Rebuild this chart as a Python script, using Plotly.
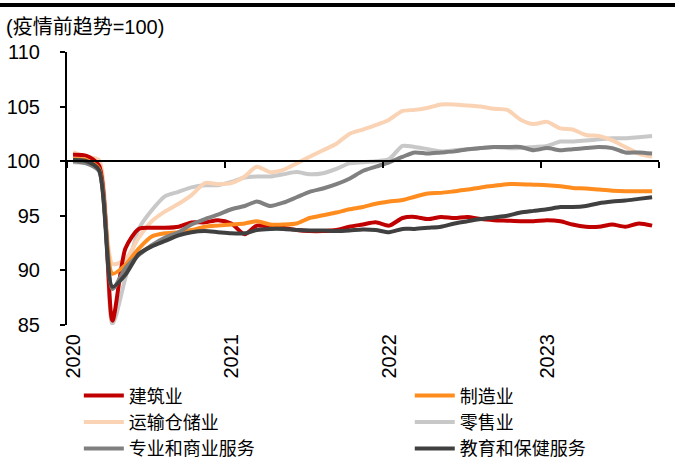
import pandas as pd
import plotly.graph_objects as go

# ---------------- data (monthly, Jan 2020 - Sep 2023; pre-pandemic trend = 100) ----------------
months = pd.date_range("2020-01-01", "2023-09-01", freq="MS") + pd.Timedelta(days=14)

construction = [100.6, 100.5, 99.6, 85.4, 92.0, 93.8, 93.9, 93.9, 94.0, 94.4, 94.4, 94.6,
                94.3, 93.3, 94.1, 94.0, 93.9, 93.7, 93.6, 93.6, 93.7, 94.0, 94.2, 94.4,
                94.1, 94.8, 94.9, 94.7, 94.9, 94.8, 94.9, 94.7, 94.6, 94.55, 94.5, 94.5,
                94.6, 94.5, 94.2, 94.0, 94.0, 94.2, 94.0, 94.3, 94.1]
manufacturing = [100.2, 100.1, 99.3, 89.7, 90.5, 92.0, 93.1, 93.4, 93.5, 93.7, 94.0, 94.1,
                 94.2, 94.3, 94.5, 94.2, 94.2, 94.3, 94.8, 95.05, 95.3, 95.6, 95.8, 96.1,
                 96.3, 96.45, 96.75, 97.05, 97.1, 97.25, 97.4, 97.6, 97.75, 97.9, 97.9, 97.85,
                 97.8, 97.7, 97.55, 97.5, 97.4, 97.3, 97.25, 97.25, 97.25]
transport = [100.8, 100.4, 100.1, 90.6, 91.0, 93.0, 94.5, 95.4, 96.1, 96.9, 98.0, 97.9,
             98.0, 98.6, 99.5, 99.0, 99.2, 99.8, 100.4, 101.0, 101.6, 102.5, 102.9, 103.3,
             103.8, 104.6, 104.7, 104.9, 105.2, 105.2, 105.1, 105.0, 104.8, 104.7, 103.8, 103.4,
             103.6, 103.0, 102.9, 102.4, 102.3, 101.9, 101.3, 100.7, 100.4]
retail = [99.9, 99.8, 99.3, 85.1, 89.3, 93.8, 95.5, 96.8, 97.2, 97.6, 97.8, 97.8,
          98.1, 98.5, 98.6, 98.6, 98.8, 99.0, 98.8, 98.9, 99.3, 99.8, 99.9, 100.0,
          100.2, 101.4, 101.3, 101.1, 100.9, 101.0, 101.1, 101.2, 101.3, 101.2, 101.2, 101.3,
          101.4, 101.8, 101.8, 101.9, 102.0, 102.1, 102.1, 102.2, 102.3]
professional = [100.0, 99.8, 99.1, 88.3, 90.2, 91.4, 92.3, 93.0, 93.5, 94.2, 94.7, 95.1,
                95.6, 95.9, 96.3, 95.9, 96.2, 96.7, 97.2, 97.5, 97.9, 98.4, 99.1, 99.5,
                99.9, 100.4, 100.8, 100.7, 100.8, 100.9, 101.1, 101.2, 101.3, 101.3, 101.3, 101.0,
                101.2, 101.0, 101.1, 101.2, 101.3, 101.2, 100.8, 100.8, 100.7]
education = [100.1, 100.0, 99.2, 88.5, 89.6, 91.5, 92.2, 92.7, 93.2, 93.5, 93.6, 93.5,
             93.4, 93.4, 93.7, 93.8, 93.8, 93.7, 93.65, 93.65, 93.6, 93.65, 93.75, 93.7,
             93.5, 93.8, 93.8, 93.9, 94.0, 94.3, 94.5, 94.7, 94.85, 95.0, 95.3, 95.45,
             95.6, 95.8, 95.8, 95.9, 96.15, 96.3, 96.4, 96.55, 96.7]

series_names = ["建筑业", "制造业", "运输仓储业", "零售业", "专业和商业服务", "教育和保健服务"]
year_labels = ["2020", "2021", "2022", "2023"]
y_title = "(疫情前趋势=100)"

# ---------------- styling ----------------
FONT = "Liberation Sans, Arial, Noto Sans CJK SC, sans-serif"
colors = ["#C00000", "#FF8C1E", "#FAD3B5", "#C8C8C8", "#808080", "#404040"]
values = [construction, manufacturing, transport, retail, professional, education]
legend_of = ["legend", "legend2", "legend", "legend2", "legend", "legend2"]
draw_order = [3, 2, 0, 1, 4, 5]  # retail & transport below, greys on top

fig = go.Figure()
for k in draw_order:
    fig.add_trace(go.Scatter(
        x=months, y=values[k], name=series_names[k], mode="lines",
        line=dict(color=colors[k], width=4, shape="spline", smoothing=0.7),
        legend=legend_of[k], legendrank=k + 1,
    ))

# helper trace to host the crossing axis at y=100
fig.add_trace(go.Scatter(x=[months[0]], y=[100], xaxis="x2", mode="lines",
                         showlegend=False, hoverinfo="skip", line=dict(width=0)))

x_range = ["2020-01-01", "2023-10-01"]
year_mid = [f"{y}-01-16" for y in year_labels]
year_start = [f"{y}-01-01" for y in year_labels] + ["2023-10-01"]

legend_style = dict(orientation="v", yanchor="top", xanchor="left",
                    yref="container", y=0.176,
                    font=dict(family=FONT, size=18, color="black"),
                    traceorder="normal", itemwidth=40, bgcolor="rgba(0,0,0,0)",
                    borderwidth=0)

fig.update_layout(
    template="none",
    width=675, height=458,
    margin=dict(l=67, r=16, t=52, b=133, autoexpand=False),
    paper_bgcolor="white", plot_bgcolor="white",
    font=dict(family=FONT, size=20, color="black"),
    showlegend=True,
    legend=dict(x=0.02, **legend_style),
    legend2=dict(x=0.579, **legend_style),
    xaxis=dict(type="date", range=x_range, tickmode="array", tickvals=year_mid,
               ticktext=year_labels, tickangle=-90, showgrid=False, zeroline=False,
               showline=False, ticks="", ticklabelstandoff=4, automargin=False,
               tickfont=dict(family=FONT, size=20, color="black")),
    xaxis2=dict(type="date", overlaying="x", anchor="free", position=0.6, side="bottom",
                range=x_range, tickmode="array", tickvals=year_start, showticklabels=False,
                showline=True, linecolor="black", linewidth=2, ticks="outside",
                ticklen=6, tickwidth=2, tickcolor="black", showgrid=False, zeroline=False,
                automargin=False),
    yaxis=dict(range=[85, 110], tickmode="array", tickvals=[85, 90, 95, 100, 105, 110],
               showgrid=False, zeroline=False, showline=True, linecolor="black", linewidth=2,
               ticks="outside", ticklen=5, tickwidth=2, tickcolor="black", automargin=False,
               ticklabelstandoff=16, tickfont=dict(family=FONT, size=20, color="black")),
    shapes=[dict(type="line", xref="paper", yref="paper", x0=-0.12, x1=1.05,
                 y0=1.172, y1=1.172, line=dict(color="black", width=4))],
    annotations=[dict(text=y_title, xref="paper", yref="paper", x=-0.106, y=1.09,
                      xanchor="left", yanchor="middle", showarrow=False,
                      font=dict(family=FONT, size=20, color="black"))],
)

fig.write_html("out.html", config={"displayModeBar": False},
               post_script="document.body.style.margin='0';document.body.style.padding='0';")
